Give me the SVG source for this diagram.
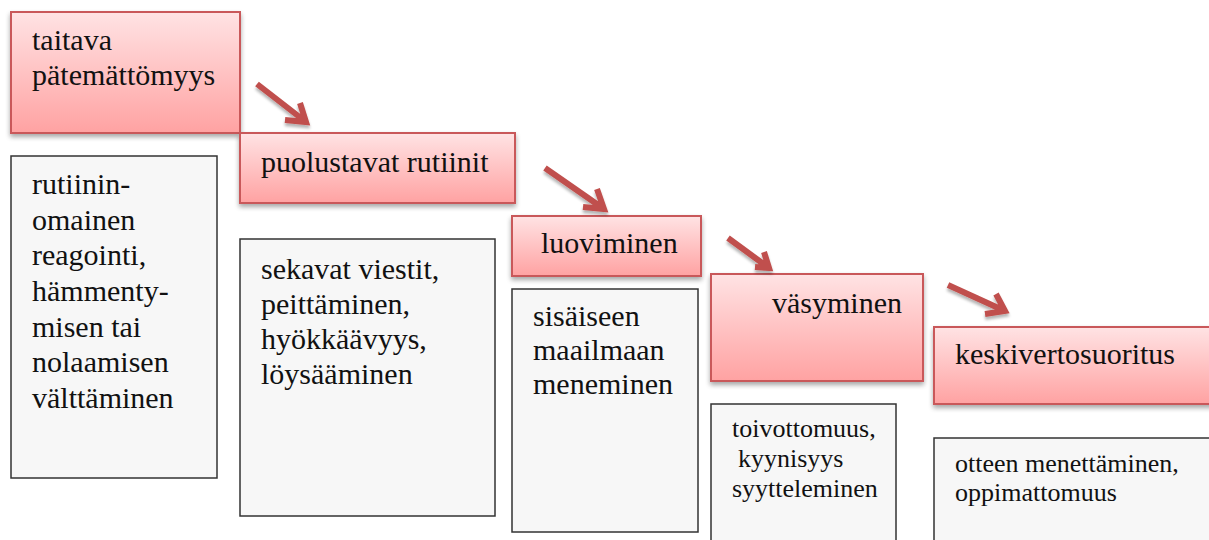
<svg xmlns="http://www.w3.org/2000/svg" width="1209" height="540" viewBox="0 0 1209 540" font-family="'Liberation Serif', 'Times New Roman', 'DejaVu Serif', serif">
<defs>
<linearGradient id="pink" x1="0" y1="0" x2="0" y2="1">
<stop offset="0" stop-color="#FFE3E4"/>
<stop offset="1" stop-color="#FFA2A2"/>
</linearGradient>
<filter id="sh" x="-10%" y="-10%" width="120%" height="130%">
<feGaussianBlur in="SourceAlpha" stdDeviation="2.5"/>
<feOffset dx="0" dy="3" result="b"/>
<feComponentTransfer><feFuncA type="linear" slope="0.35"/></feComponentTransfer>
<feMerge><feMergeNode/><feMergeNode in="SourceGraphic"/></feMerge>
</filter>
<filter id="ash" x="-20%" y="-20%" width="140%" height="160%">
<feGaussianBlur in="SourceAlpha" stdDeviation="1.5"/>
<feOffset dx="0" dy="3" result="b"/>
<feComponentTransfer><feFuncA type="linear" slope="0.3"/></feComponentTransfer>
<feMerge><feMergeNode/><feMergeNode in="SourceGraphic"/></feMerge>
</filter>
</defs>
<style>
.stage{fill:url(#pink);stroke:#C9585A;stroke-width:2;filter:url(#sh)}
.desc{fill:#F7F7F7;stroke:#333;stroke-width:1.5}
text{font-family:'Liberation Serif','Times New Roman','DejaVu Serif',serif;fill:#111}
.t{font-size:30px}
.s{font-size:26px}
.arr{fill:none;stroke:#C0504D;stroke-width:6;stroke-linejoin:miter;filter:url(#ash)}
</style>
<rect width="1209" height="540" fill="#fff"/>

<g id="desc1">
<rect class="desc" x="11" y="156" width="206" height="322"/>
<text class="t" x="32" y="194">rutiinin-</text>
<text class="t" x="32" y="230">omainen</text>
<text class="t" x="32" y="265">reagointi,</text>
<text class="t" x="32" y="301">hämmenty-</text>
<text class="t" x="32" y="337">misen tai</text>
<text class="t" x="32" y="372">nolaamisen</text>
<text class="t" x="32" y="408">välttäminen</text>
</g>
<g id="desc2">
<rect class="desc" x="240" y="239" width="255" height="277"/>
<text class="t" x="261" y="279">sekavat viestit,</text>
<text class="t" x="261" y="314">peittäminen,</text>
<text class="t" x="261" y="349">hyökkäävyys,</text>
<text class="t" x="261" y="384">löysääminen</text>
</g>
<g id="desc3">
<rect class="desc" x="512" y="289" width="186" height="243"/>
<text class="t" x="533" y="326">sisäiseen</text>
<text class="t" x="533" y="360">maailmaan</text>
<text class="t" x="533" y="394">meneminen</text>
</g>
<g id="desc4">
<rect class="desc" x="711" y="404" width="185" height="150"/>
<text class="s" x="732" y="437">toivottomuus,</text>
<text class="s" x="738" y="467">kyynisyys</text>
<text class="s" x="732" y="497">syytteleminen</text>
</g>
<g id="desc5">
<rect class="desc" x="934" y="438" width="290" height="120"/>
<text class="s" x="955" y="472">otteen menettäminen,</text>
<text class="s" x="955" y="501">oppimattomuus</text>
</g>

<g id="stage1">
<rect class="stage" x="11" y="12" width="229" height="121"/>
<text class="t" x="32" y="50">taitava</text>
<text class="t" x="32" y="85">pätemättömyys</text>
</g>
<g id="stage2">
<rect class="stage" x="240" y="133" width="275" height="70"/>
<text class="t" x="261" y="172">puolustavat rutiinit</text>
</g>
<g id="stage3">
<rect class="stage" x="512" y="216" width="189" height="60"/>
<text class="t" x="541" y="253">luoviminen</text>
</g>
<g id="stage4">
<rect class="stage" x="711" y="274" width="212" height="107"/>
<text class="t" x="772" y="313">väsyminen</text>
</g>
<g id="stage5">
<rect class="stage" x="934" y="327" width="290" height="77"/>
<text class="t" x="955" y="364">keskivertosuoritus</text>
</g>

<g id="connectors">
<path class="arr" d="M257 84 L306 122 M285 120 L306 122 L300 103"/>
<path class="arr" d="M545 168 L604 209 M583 207 L604 209 L597 189"/>
<path class="arr" d="M728 238 L769 268 M755 267 L769 268 L764 252"/>
<path class="arr" d="M948 285 L1005 311 M985 314 L1005 311 L996 294"/>
</g>
</svg>
